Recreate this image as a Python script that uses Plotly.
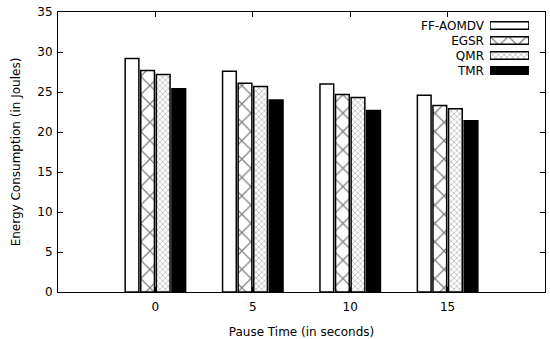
import plotly.graph_objects as go

pause_labels = ["0", "5", "10", "15"]
series_names = ["FF-AOMDV", "EGSR", "QMR", "TMR"]
ff_aomdv = [29.2, 27.6, 26.0, 24.6]
egsr = [27.7, 26.1, 24.7, 23.3]
qmr = [27.2, 25.7, 24.3, 22.9]
tmr = [25.4, 24.0, 22.7, 21.4]

values = [ff_aomdv, egsr, qmr, tmr]
xpos = list(range(1, len(pause_labels) + 1))

styles = [
    dict(color="white", pattern=None),
    dict(color="white", pattern=dict(shape="x", size=13, solidity=0.18, fgcolor="black", bgcolor="white")),
    dict(color="white", pattern=dict(shape="x", size=4, solidity=0.3, fgcolor="#555555", bgcolor="white")),
    dict(color="black", pattern=None),
]

FONT = "DejaVu Sans"
fig = go.Figure()
for name, vals, st in zip(series_names, values, styles):
    marker = dict(color=st["color"], line=dict(color="black", width=1.5))
    if st["pattern"]:
        marker["pattern"] = st["pattern"]
    fig.add_trace(go.Bar(x=xpos, y=vals, name=name, marker=marker, showlegend=False,
                         xaxis="x", yaxis="y"))

# custom legend (text on the left, key on the right) using a small overlay axis
for name, st in zip(series_names, styles):
    marker = dict(color=st["color"], line=dict(color="black", width=1.5))
    if st["pattern"]:
        marker["pattern"] = dict(st["pattern"])
    fig.add_trace(go.Bar(x=[1], y=[name], orientation="h", marker=marker, width=0.5,
                         showlegend=False, xaxis="x2", yaxis="y2", hoverinfo="skip"))

fig.update_layout(
    width=550, height=339, autosize=False,
    margin=dict(l=58, r=5, t=12, b=47, autoexpand=False),
    paper_bgcolor="white", plot_bgcolor="white",
    font=dict(family=FONT, size=12, color="black"),
    barmode="group", bargap=0.36, bargroupgap=0.12,
    xaxis=dict(range=[0, 5], tickvals=xpos, ticktext=pause_labels, automargin=False,
               ticks="inside", ticklen=5, tickcolor="black", showline=True,
               linecolor="black", linewidth=1, mirror="ticks", showgrid=False, zeroline=False,
               ticklabelstandoff=4,
               title=dict(text="Pause Time (in seconds)", font=dict(size=12), standoff=14),
               tickfont=dict(size=12)),
    yaxis=dict(range=[0, 35], dtick=5, ticks="inside", ticklen=5, tickcolor="black",
               showline=True, linecolor="black", linewidth=1, mirror="ticks", automargin=False,
               showgrid=False, zeroline=False, ticklabelstandoff=2,
               title=dict(text="Energy Consumption (in Joules)", font=dict(size=12), standoff=14),
               tickfont=dict(size=12)),
    xaxis2=dict(domain=[0.887, 0.967], range=[0, 1], visible=False, anchor="y2", automargin=False),
    yaxis2=dict(domain=[0.764, 0.979], anchor="x2", categoryorder="array", automargin=False,
                categoryarray=series_names[::-1], tickmode="array", tickvals=series_names,
                showgrid=False, zeroline=False,
                showline=False, ticks="", ticklabelstandoff=5, tickfont=dict(size=12)),
)

fig.write_html("out.html",
               config={"responsive": False, "displayModeBar": False, "staticPlot": True},
               post_script="document.body.style.margin='0';document.body.style.overflow='hidden';")
